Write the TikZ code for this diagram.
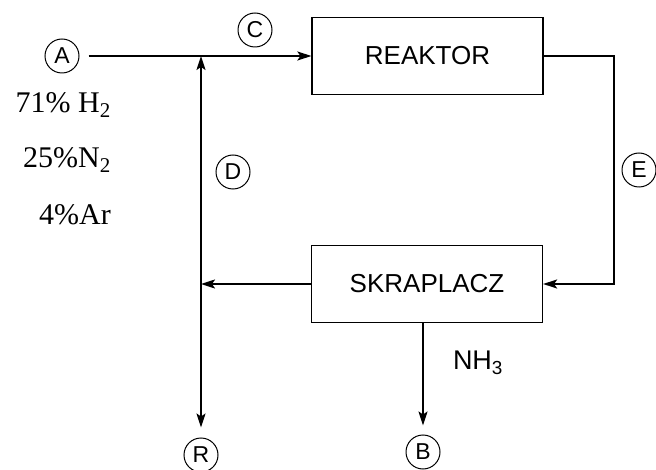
\documentclass[tikz,border=0pt]{standalone}
\usepackage{fontspec}
\setmainfont{Liberation Serif}
\setsansfont{Liberation Sans}
\usepackage{tikz}
\usetikzlibrary{arrows.meta,positioning,calc}

\begin{document}
\begin{tikzpicture}[
  x=1pt, y=-1pt,
  >={Stealth[length=14pt,width=9pt,inset=3pt]},
  flow/.style={line width=1.9pt},
  unit/.style={draw, line width=1.2pt, minimum width=231pt, minimum height=77pt,
               font=\sffamily\fontsize{26}{28}\selectfont},
  strm/.style={draw, circle, line width=1pt, minimum size=34pt, inner sep=0pt,
               font=\sffamily\fontsize{23}{25}\selectfont},
  comp/.style={anchor=east, inner sep=0pt, font=\rmfamily\fontsize{30}{32}\selectfont}
]
\useasboundingbox (0,0) rectangle (656,470);

% ---------- units ----------
\node[unit] (reak) at (427.5,56) {REAKTOR};
\node[unit] (skr)  at (427,284)  {SKRAPLACZ};

% ---------- stream markers ----------
\node[strm] (A) at (62,56)  {A};
\node[strm] (C) at (255,30) {C};
\node[strm] (D) at (233,172) {D};
\node[strm] (E) at (639,170) {E};
\node[strm] (R) at (201,455) {R};
\node[strm] (B) at (423,452) {B};

% feed composition
\node[comp] (h2) at (111,105) {71\% H\textsubscript{2}};
\node[comp] (n2) at (111,160) {25\%N\textsubscript{2}};
\node[comp] (ar) at (111,215) {4\%Ar};

\node[font=\sffamily\fontsize{27}{29}\selectfont] (nh3) at (478,363) {NH\textsubscript{3}};

% junctions on the recycle line
\coordinate (jtop) at (201,56);
\coordinate (jmid) at (201,284);

% ---------- flows ----------
\draw[flow,->] ([xshift=9pt]A.east) -- (reak.west);
\draw[flow,->] (reak.east) -- ++(70pt,0) |- (skr.east);
\draw[flow,->] (skr.west) -- (jmid);
\draw[flow,->] (jmid) -- (jtop);
\draw[flow,->] (jmid) -- ([yshift=10pt]R.north);
\draw[flow,->] (skr.south -| B) -- ([yshift=9pt]B.north);

\end{tikzpicture}
\end{document}
